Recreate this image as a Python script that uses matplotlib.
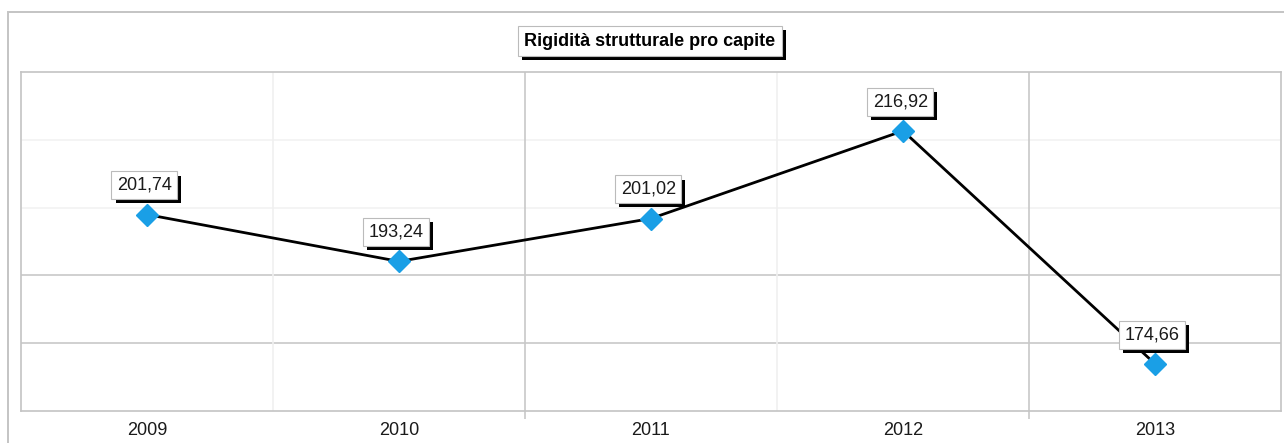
import matplotlib
matplotlib.use("Agg")
from matplotlib import pyplot as plt
from matplotlib import patheffects
from matplotlib.patches import Rectangle

# data
years = ["2009", "2010", "2011", "2012", "2013"]
values = [201.74, 193.24, 201.02, 216.92, 174.66]
value_labels = ["201,74", "193,24", "201,02", "216,92", "174,66"]

y_min, y_max = 166.1, 227.6

plt.rcParams['font.family'] = ['Liberation Sans', 'DejaVu Sans']

fig = plt.figure(figsize=(12.84, 4.43), dpi=100)
W, H = 1284, 443

# outer frame
fig.patches.append(Rectangle((8 / W, -0.2), 1.2, 1.2 - 12 / H,
                             transform=fig.transFigure, fill=False,
                             edgecolor="#c4c4c4", linewidth=1.4))

ax = fig.add_axes([21 / W, 1 - 411 / H, 1260 / W, 339 / H])
ax.set_xlim(-0.5, len(years) - 0.5)
ax.set_ylim(y_min, y_max)

# horizontal gridlines (the upper two are barely visible in the original)
grid_y = [y_min + (y_max - y_min) * k / 5 for k in range(1, 5)]
grid_col = ["#c8c8c8", "#c8c8c8", "#f2f2f2", "#f2f2f2"]
for gy, gc in zip(grid_y, grid_col):
    ax.axhline(gy, color=gc, linewidth=1.2, zorder=0)

# vertical category boundaries
bounds = [i + 0.5 for i in range(len(years) - 1)]
vcol = ["#f0f0f0", "#c8c8c8", "#f0f0f0", "#c8c8c8"]
for bx, bc in zip(bounds, vcol):
    ax.axvline(bx, color=bc, linewidth=1.2, zorder=0)

x = list(range(len(years)))
ax.plot(x, values, color="black", linewidth=2.0, zorder=2)
ax.plot(x, values, linestyle="none", marker="D", markersize=11,
        markerfacecolor="#1a9fe6", markeredgecolor="#1a9fe6", zorder=3)

shadow = [patheffects.SimplePatchShadow(offset=(3, -3), shadow_rgbFace="black", alpha=1),
          patheffects.Normal()]

for xi, v, lab in zip(x, values, value_labels):
    t = ax.annotate(lab, (xi, v), xytext=(-2, 21), textcoords="offset points",
                    ha="center", va="center", fontsize=13, color="#1a1a1a",
                    bbox=dict(boxstyle="square,pad=0.3", fc="white",
                              ec="#bbbbbb", lw=0.8), zorder=5)
    t.get_bbox_patch().set_path_effects(shadow)

title = fig.text(650 / W, 1 - 41 / H, "Rigidità strutturale pro capite",
                 ha="center", va="center", fontsize=13, fontweight="bold",
                 bbox=dict(boxstyle="square,pad=0.35", fc="white",
                           ec="#bbbbbb", lw=0.8))
title.get_bbox_patch().set_path_effects(shadow)

ax.set_xticks(x)
ax.set_xticklabels(years, fontsize=13, color="#1a1a1a")
# only the darker boundaries show a tick below the axis
ax.set_xticks([b for b, c in zip(bounds, vcol) if c == "#c8c8c8"], minor=True)
ax.tick_params(axis="x", which="major", length=0, pad=8)
ax.tick_params(axis="x", which="minor", length=6, width=1.2, color="#c8c8c8")
ax.set_yticks([])

for s in ax.spines.values():
    s.set_color("#c4c4c4")
    s.set_linewidth(1.2)

fig.savefig("out.png", dpi=100)
